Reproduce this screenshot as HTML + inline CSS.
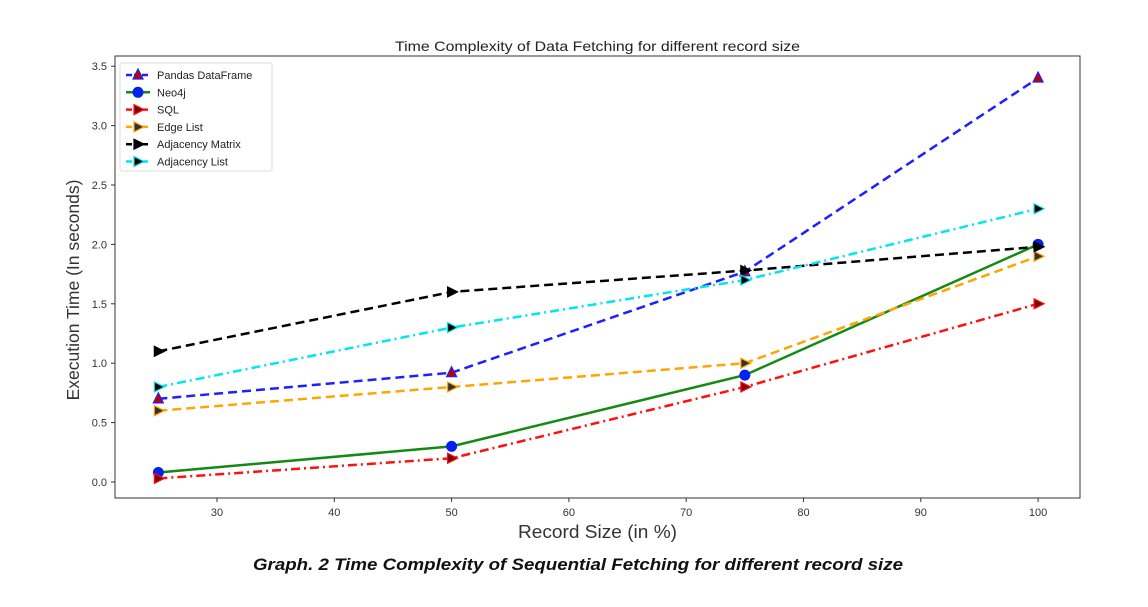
<!DOCTYPE html>
<html><head><meta charset="utf-8"><style>
body{margin:0;background:#fff;width:1148px;height:602px;overflow:hidden;font-family:"Liberation Sans",sans-serif}
</style></head><body>
<svg width="1148" height="602" id="svg" xmlns="http://www.w3.org/2000/svg">
<text x="395" y="51" textLength="405" lengthAdjust="spacingAndGlyphs" font-size="14" fill="#222">Time Complexity of Data Fetching for different record size</text>
<rect x="115" y="56" width="965" height="442" fill="none" stroke="#333" stroke-width="1"/>
<g id="ticks"></g>
<g id="series"></g>
<text x="518" y="538" textLength="159" lengthAdjust="spacingAndGlyphs" font-size="18" fill="#333">Record Size (in %)</text>
<text transform="translate(79,290) rotate(-90)" text-anchor="middle" font-size="17.5" fill="#333">Execution Time (In seconds)</text>
<text x="253" y="570" textLength="650" lengthAdjust="spacingAndGlyphs" font-size="17" font-weight="bold" font-style="italic" fill="#111">Graph. 2 Time Complexity of Sequential Fetching for different record size</text>
<g id="legend"></g>
</svg>
<script>
const categories=[25,50,75,100];
const pandas=[0.7,0.92,1.77,3.4];
const neo4j=[0.08,0.3,0.9,2.0];
const sql=[0.03,0.2,0.8,1.5];
const edgeList=[0.6,0.8,1.0,1.9];
const adjMatrix=[1.1,1.6,1.78,1.98];
const adjList=[0.8,1.3,1.7,2.3];
const xTicks=[30,40,50,60,70,80,90,100];
const yTicks=[0,0.5,1,1.5,2,2.5,3,3.5];
const names=["Pandas DataFrame","Neo4j"," SQL","Edge List","Adjacency Matrix","Adjacency List"];
const NS="http://www.w3.org/2000/svg";
const X=v=>217+(v-30)*11.73;
const Y=v=>482-v*118.8;
function mk(t,a,p){const e=document.createElementNS(NS,t);for(const k in a)e.setAttribute(k,a[k]);p.appendChild(e);return e;}
const tk=document.getElementById('ticks');
xTicks.forEach(v=>{mk('line',{x1:X(v),x2:X(v),y1:498,y2:502,stroke:'#333'},tk);
const t=mk('text',{x:X(v),y:516,'text-anchor':'middle','font-size':11,fill:'#333'},tk);t.textContent=v;

});
yTicks.forEach(v=>{mk('line',{x1:111,x2:115,y1:Y(v),y2:Y(v),stroke:'#333'},tk);
const t=mk('text',{x:107,y:Y(v)+4,'text-anchor':'end','font-size':11,fill:'#333'},tk);t.textContent=v.toFixed(1);

});
const sers=[
{d:pandas,c:'#1f1fff',dash:'9,5',m:'tri-up',mf:'#c00000'},
{d:neo4j,c:'#138a13',dash:'',m:'circle',mf:'#0022ee'},
{d:sql,c:'#ff1010',dash:'9,4,2,4',m:'tri-right',mf:'#800000'},
{d:edgeList,c:'#ffa500',dash:'9,5',m:'tri-right',mf:'#333'},
{d:adjMatrix,c:'#000',dash:'9,5',m:'tri-right',mf:'#000'},
{d:adjList,c:'#00e5ee',dash:'9,4,2,4',m:'tri-right',mf:'#000'}];
const sg=document.getElementById('series');
function marker(kind,x,y,col,fill,g){
 if(kind==='circle')return mk('circle',{cx:x,cy:y,r:5,fill:fill,stroke:fill},g);
 if(kind==='tri-up')return mk('polygon',{points:`${x},${y-6} ${x-5},${y+4} ${x+5},${y+4}`,fill:fill,stroke:col,'stroke-width':1.2},g);
 return mk('polygon',{points:`${x+6},${y} ${x-4},${y-5} ${x-4},${y+5}`,fill:fill,stroke:col,'stroke-width':1.2},g);
}
sers.forEach((s,i)=>{
 const g=mk('g',{},sg);
 
 
 mk('polyline',{points:s.d.map((v,j)=>X(categories[j])+','+Y(v)).join(' '),fill:'none',stroke:s.c,'stroke-width':2.5,'stroke-dasharray':s.dash},g);
 s.d.forEach((v,j)=>{const m=marker(s.m,X(categories[j]),Y(v),s.c,s.mf,g);
 
 });
});
const lg=document.getElementById('legend');


mk('rect',{x:120,y:63,width:152,height:108,fill:'#fff',stroke:'#ddd',rx:2},lg);
sers.forEach((s,i)=>{
 const y=75+i*17.3;
 const e=mk('g',{},lg);
 
 
 mk('line',{x1:126,x2:150,y1:y,y2:y,stroke:s.c,'stroke-width':2.5,'stroke-dasharray':s.dash?'6,2':''},e);
 marker(s.m,138,y,s.c,s.mf,e);
 const t=mk('text',{x:157,y:y+4,'font-size':11,fill:'#222','xml:space':'preserve'},e);t.textContent=names[i];
});
</script>
</body></html>
